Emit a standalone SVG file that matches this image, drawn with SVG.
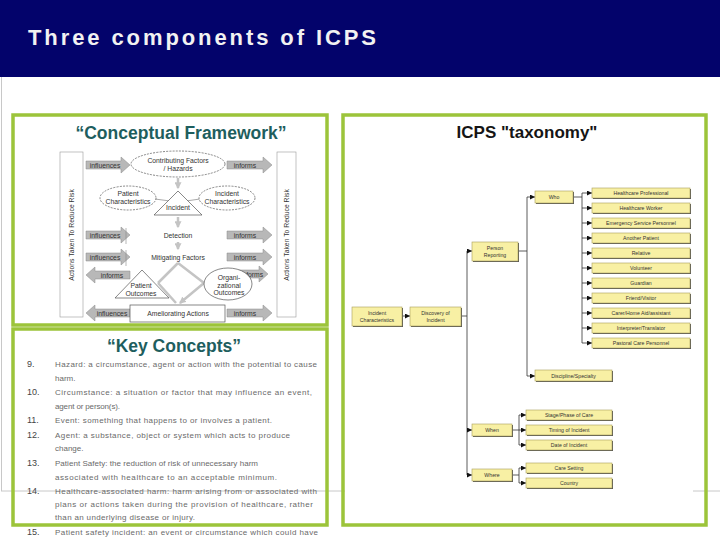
<svg xmlns="http://www.w3.org/2000/svg" width="720" height="540" viewBox="0 0 720 540">
<defs>
<style>
.ttl{font-family:"Liberation Sans",Arial,sans-serif;font-weight:bold}
.fw{font-family:"Liberation Sans",Arial,sans-serif;font-size:6.8px;fill:#333;text-anchor:middle}
.kc{font-family:"Liberation Sans",Arial,sans-serif;font-size:8px;fill:#6a6a6a}
.kn{font-family:"Liberation Sans",Arial,sans-serif;font-size:9px;fill:#444}
.tx{font-family:"Liberation Sans",Arial,sans-serif;font-size:5.2px;fill:#333;text-anchor:middle}
.panel{fill:none;stroke:#9cc43a;stroke-width:3.5}
.ba{fill:#b8b8b8;stroke:#8a8a8a;stroke-width:0.5}
.el{fill:#fff;stroke:#555;stroke-width:0.7;stroke-dasharray:2 1.2}
.gl{fill:none;stroke:#c4c4c4;stroke-width:2.5}
.yb{fill:#f8f0a4;stroke:#a89f5a;stroke-width:0.6}
.ys{fill:#555}
.tl{fill:none;stroke:#333;stroke-width:0.8}
.ta{fill:none;stroke:#333;stroke-width:0.8;marker-end:url(#ah)}
</style>
<marker id="ah" viewBox="0 0 6 6" refX="6" refY="3" markerWidth="5" markerHeight="5" orient="auto" markerUnits="userSpaceOnUse">
<path d="M0,0 L6,3 L0,6 Z" fill="#111"/>
</marker>
<marker id="gah" viewBox="0 0 6 6" refX="5" refY="3" markerWidth="7" markerHeight="7" orient="auto" markerUnits="userSpaceOnUse">
<path d="M0,0 L6,3 L0,6 Z" fill="#c4c4c4"/>
</marker>
</defs>

<rect x="0" y="0" width="720" height="540" fill="#fff"/>
<g id="header">
<rect x="0" y="0" width="720" height="77" fill="#03036b"/>
<text class="ttl" x="28" y="45" font-size="22" fill="#f2f2f2" textLength="348" lengthAdjust="spacing">Three components of ICPS</text>
</g>

<g id="frame-lines" stroke="#c8c8c8" stroke-width="1">
<line x1="1.5" y1="77" x2="1.5" y2="491"/>
<line x1="1" y1="491" x2="345" y2="491"/>
<line x1="693" y1="491" x2="720" y2="491"/>
</g>

<!-- Left panel: Conceptual Framework -->
<g id="conceptual-framework">
<rect class="panel" x="13" y="115" width="314" height="210"/>
<text class="ttl" x="181" y="139" font-size="17.5" fill="#1e5e5e" text-anchor="middle">“Conceptual Framework”</text>
<rect x="60" y="152" width="23" height="165" fill="#fff" stroke="#999" stroke-width="0.6"/>
<text class="fw" transform="translate(74,235) rotate(-90)" font-size="6.5">Actions Taken To Reduce Risk</text>
<rect x="277" y="152" width="19" height="165" fill="#fff" stroke="#999" stroke-width="0.6"/>
<text class="fw" transform="translate(289,235) rotate(-90)" font-size="6.5">Actions Taken To Reduce Risk</text>

<path class="ba" d="M86,161 H121 V157 L130,165 L121,173 V169 H86 Z"/><text class="fw" x="105" y="167.5">influences</text>
<path class="ba" d="M227,161 H263 V157 L272,165 L263,173 V169 H227 Z"/><text class="fw" x="245" y="167.5">informs</text>
<path class="ba" d="M86,231 H121 V227 L130,235 L121,243 V239 H86 Z"/><text class="fw" x="105" y="237.5">influences</text>
<path class="ba" d="M227,231 H263 V227 L272,235 L263,243 V239 H227 Z"/><text class="fw" x="245" y="237.5">informs</text>
<path class="ba" d="M86,253 H121 V249 L130,257 L121,265 V261 H86 Z"/><text class="fw" x="105" y="259.5">influences</text>
<path class="ba" d="M227,253 H263 V249 L272,257 L263,265 V261 H227 Z"/><text class="fw" x="245" y="259.5">informs</text>
<path class="ba" d="M228,270 H259 V266 L268,274 L259,282 V278 H228 Z"/><text class="fw" x="252" y="276.5">informs</text>
<path class="ba" d="M227,309 H263 V305 L272,313 L263,321 V317 H227 Z"/><text class="fw" x="245" y="315.5">informs</text>
<path class="ba" d="M130,271 H95 V267 L86,275 L95,283 V279 H130 Z"/><text class="fw" x="112" y="277.5">informs</text>
<path class="ba" d="M130,309 H95 V305 L86,313 L95,321 V317 H130 Z"/><text class="fw" x="112" y="315.5">influences</text>
<line x1="126" y1="228" x2="126" y2="244" stroke="#888" stroke-width="0.6"/>
<line x1="126" y1="250" x2="126" y2="266" stroke="#888" stroke-width="0.6"/>

<line class="gl" x1="178" y1="178" x2="178" y2="188" marker-end="url(#gah)"/>
<line class="gl" x1="178" y1="217" x2="178" y2="227" marker-end="url(#gah)"/>
<line class="gl" x1="178" y1="242" x2="178" y2="249" marker-end="url(#gah)"/>
<line x1="155" y1="199" x2="170" y2="201" stroke="#aaa" stroke-width="1.2"/>
<line x1="200" y1="199" x2="186" y2="201" stroke="#aaa" stroke-width="1.2"/>
<path class="gl" d="M178,263 L158,283 M178,263 L204,283"/>
<path class="gl" d="M158,283 L176,303 M204,283 L180,303" marker-end="url(#gah)"/>

<ellipse class="el" cx="178" cy="164" rx="47" ry="13"/>
<text class="fw" x="178" y="162.5">Contributing Factors</text>
<text class="fw" x="178" y="170.5">/ Hazards</text>
<ellipse class="el" cx="128" cy="198" rx="28" ry="12"/>
<text class="fw" x="128" y="196">Patient</text>
<text class="fw" x="128" y="204">Characteristics</text>
<ellipse class="el" cx="227" cy="198" rx="28" ry="12"/>
<text class="fw" x="227" y="196">Incident</text>
<text class="fw" x="227" y="204">Characteristics</text>
<path d="M178,191 L202,215 H154 Z" fill="#fff" stroke="#555" stroke-width="0.7"/>
<text class="fw" x="178" y="210">Incident</text>
<text class="fw" x="178" y="238">Detection</text>
<text class="fw" x="178" y="260">Mitigating Factors</text>

<path d="M142,270 L169,298 H115 Z" fill="#fff" stroke="#555" stroke-width="0.7"/>
<text class="fw" x="141" y="288">Patient</text>
<text class="fw" x="141" y="296">Outcomes</text>
<ellipse cx="228" cy="284" rx="24" ry="16" fill="#fff" stroke="#555" stroke-width="0.7"/>
<text class="fw" x="229" y="280">Organi-</text>
<text class="fw" x="229" y="287.5">zational</text>
<text class="fw" x="229" y="295">Outcomes</text>
<rect x="130" y="305" width="95" height="17" fill="#fff" stroke="#555" stroke-width="0.7"/>
<text class="fw" x="178" y="316">Ameliorating Actions</text>
</g>

<g id="key-concepts">
<rect class="panel" x="13" y="329" width="314" height="196"/>
<text class="ttl" x="174" y="352" font-size="17.5" fill="#1e5e5e" text-anchor="middle">“Key Concepts”</text>
<text class="kn" x="27" y="367">9.</text>
<text class="kc" x="55" y="367" textLength="262" lengthAdjust="spacing">Hazard: a circumstance, agent or action with the potential to cause</text>
<text class="kc" x="55" y="381">harm.</text>
<text class="kn" x="27" y="395">10.</text>
<text class="kc" x="55" y="395" textLength="257" lengthAdjust="spacing">Circumstance: a situation or factor that may influence an event,</text>
<text class="kc" x="55" y="409" textLength="65" lengthAdjust="spacing">agent or person(s).</text>
<text class="kn" x="27" y="423">11.</text>
<text class="kc" x="55" y="423" textLength="217" lengthAdjust="spacing">Event: something that happens to or involves a patient.</text>
<text class="kn" x="27" y="438">12.</text>
<text class="kc" x="55" y="438" textLength="235" lengthAdjust="spacing">Agent: a substance, object or system which acts to produce</text>
<text class="kc" x="55" y="451">change.</text>
<text class="kn" x="27" y="466">13.</text>
<text class="kc" x="55" y="466" textLength="203" lengthAdjust="spacing">Patient Safety: the reduction of risk of unnecessary harm</text>
<text class="kc" x="55" y="480" textLength="222" lengthAdjust="spacing">associated with healthcare to an acceptable minimum.</text>
<text class="kn" x="27" y="494">14.</text>
<text class="kc" x="55" y="494" textLength="262" lengthAdjust="spacing">Healthcare-associated harm: harm arising from or associated with</text>
<text class="kc" x="55" y="507" textLength="258" lengthAdjust="spacing">plans or actions taken during the provision of healthcare, rather</text>
<text class="kc" x="55" y="520" textLength="140" lengthAdjust="spacing">than an underlying disease or injury.</text>
<text class="kn" x="27" y="535">15.</text>
<text class="kc" x="55" y="535" textLength="263" lengthAdjust="spacing">Patient safety incident: an event or circumstance which could have</text>
</g>

<g id="taxonomy-panel">
<rect class="panel" x="343" y="115" width="363" height="410"/>
<text class="ttl" x="527" y="138" font-size="17" fill="#151515" text-anchor="middle">ICPS "taxonomy"</text>
</g>

<g id="connectors">
<line class="ta" x1="402" y1="316" x2="410" y2="316"/>
<path class="tl" d="M461,316 H467 M467,251 V475"/>
<line class="ta" x1="467" y1="251" x2="472" y2="251"/>
<line class="ta" x1="467" y1="430" x2="472" y2="430"/>
<line class="ta" x1="467" y1="475" x2="472" y2="475"/>
<path class="tl" d="M518,251 H527 M527,197 V376"/>
<line class="ta" x1="527" y1="197" x2="535" y2="197"/>
<line class="ta" x1="527" y1="376" x2="535" y2="376"/>
<path class="tl" d="M573,197 H582 M582,193 V343"/>
<line class="ta" x1="582" y1="193" x2="592" y2="193"/>
<line class="ta" x1="582" y1="208" x2="592" y2="208"/>
<line class="ta" x1="582" y1="223" x2="592" y2="223"/>
<line class="ta" x1="582" y1="238" x2="592" y2="238"/>
<line class="ta" x1="582" y1="253" x2="592" y2="253"/>
<line class="ta" x1="582" y1="268" x2="592" y2="268"/>
<line class="ta" x1="582" y1="283" x2="592" y2="283"/>
<line class="ta" x1="582" y1="298" x2="592" y2="298"/>
<line class="ta" x1="582" y1="313" x2="592" y2="313"/>
<line class="ta" x1="582" y1="328" x2="592" y2="328"/>
<line class="ta" x1="582" y1="343" x2="592" y2="343"/>
<path class="tl" d="M512,430 H519 M519,415 V445"/>
<line class="ta" x1="519" y1="415" x2="526" y2="415"/>
<line class="ta" x1="519" y1="430" x2="526" y2="430"/>
<line class="ta" x1="519" y1="445" x2="526" y2="445"/>
<path class="tl" d="M512,475 H519 M519,468 V483"/>
<line class="ta" x1="519" y1="468" x2="526" y2="468"/>
<line class="ta" x1="519" y1="483" x2="526" y2="483"/>
</g>

<g id="n-incident-characteristics"><rect class="ys" x="353" y="308" width="50" height="19"/><rect class="yb" x="352" y="307" width="50" height="19"/><text class="tx" x="377" y="315">Incident</text><text class="tx" x="377" y="322">Characteristics</text></g>
<g id="n-discovery"><rect class="ys" x="411" y="308" width="51" height="19"/><rect class="yb" x="410" y="307" width="51" height="19"/><text class="tx" x="435.5" y="315">Discovery of</text><text class="tx" x="435.5" y="322">Incident</text></g>
<g id="n-person-reporting"><rect class="ys" x="473" y="243" width="46" height="19"/><rect class="yb" x="472" y="242" width="46" height="19"/><text class="tx" x="495" y="250">Person</text><text class="tx" x="495" y="257">Reporting</text></g>
<g id="n-when"><rect class="ys" x="473" y="425" width="40" height="12"/><rect class="yb" x="472" y="424" width="40" height="12"/><text class="tx" x="492" y="432">When</text></g>
<g id="n-where"><rect class="ys" x="473" y="470" width="40" height="12"/><rect class="yb" x="472" y="469" width="40" height="12"/><text class="tx" x="492" y="477">Where</text></g>
<g id="n-who"><rect class="ys" x="536" y="192" width="38" height="12"/><rect class="yb" x="535" y="191" width="38" height="12"/><text class="tx" x="554" y="199">Who</text></g>
<g id="n-discipline"><rect class="ys" x="536" y="371" width="77" height="11"/><rect class="yb" x="535" y="370" width="77" height="11"/><text class="tx" x="573.5" y="377.5">Discipline/Specialty</text></g>

<g id="n-healthcare-professional"><rect class="ys" x="593" y="189" width="98" height="10"/><rect class="yb" x="592" y="188" width="98" height="10"/><text class="tx" x="641" y="195">Healthcare Professional</text></g>
<g id="n-healthcare-worker"><rect class="ys" x="593" y="204" width="98" height="10"/><rect class="yb" x="592" y="203" width="98" height="10"/><text class="tx" x="641" y="210">Healthcare Worker</text></g>
<g id="n-emergency"><rect class="ys" x="593" y="219" width="98" height="10"/><rect class="yb" x="592" y="218" width="98" height="10"/><text class="tx" x="641" y="225">Emergency Service Personnel</text></g>
<g id="n-another-patient"><rect class="ys" x="593" y="234" width="98" height="10"/><rect class="yb" x="592" y="233" width="98" height="10"/><text class="tx" x="641" y="240">Another Patient</text></g>
<g id="n-relative"><rect class="ys" x="593" y="249" width="98" height="10"/><rect class="yb" x="592" y="248" width="98" height="10"/><text class="tx" x="641" y="255">Relative</text></g>
<g id="n-volunteer"><rect class="ys" x="593" y="264" width="98" height="10"/><rect class="yb" x="592" y="263" width="98" height="10"/><text class="tx" x="641" y="270">Volunteer</text></g>
<g id="n-guardian"><rect class="ys" x="593" y="279" width="98" height="10"/><rect class="yb" x="592" y="278" width="98" height="10"/><text class="tx" x="641" y="285">Guardian</text></g>
<g id="n-friend"><rect class="ys" x="593" y="294" width="98" height="10"/><rect class="yb" x="592" y="293" width="98" height="10"/><text class="tx" x="641" y="300">Friend/Visitor</text></g>
<g id="n-carer"><rect class="ys" x="593" y="309" width="98" height="10"/><rect class="yb" x="592" y="308" width="98" height="10"/><text class="tx" x="641" y="315">Carer/Home Aid/assistant</text></g>
<g id="n-interpreter"><rect class="ys" x="593" y="324" width="98" height="10"/><rect class="yb" x="592" y="323" width="98" height="10"/><text class="tx" x="641" y="330">Interpreter/Translator</text></g>
<g id="n-pastoral"><rect class="ys" x="593" y="339" width="98" height="10"/><rect class="yb" x="592" y="338" width="98" height="10"/><text class="tx" x="641" y="345">Pastoral Care Personnel</text></g>

<g id="n-stage"><rect class="ys" x="527" y="411" width="86" height="10"/><rect class="yb" x="526" y="410" width="86" height="10"/><text class="tx" x="569" y="417">Stage/Phase of Care</text></g>
<g id="n-timing"><rect class="ys" x="527" y="426" width="86" height="10"/><rect class="yb" x="526" y="425" width="86" height="10"/><text class="tx" x="569" y="432">Timing of Incident</text></g>
<g id="n-date"><rect class="ys" x="527" y="441" width="86" height="10"/><rect class="yb" x="526" y="440" width="86" height="10"/><text class="tx" x="569" y="447">Date of Incident</text></g>
<g id="n-care-setting"><rect class="ys" x="527" y="464" width="86" height="10"/><rect class="yb" x="526" y="463" width="86" height="10"/><text class="tx" x="569" y="470">Care Setting</text></g>
<g id="n-country"><rect class="ys" x="527" y="479" width="86" height="10"/><rect class="yb" x="526" y="478" width="86" height="10"/><text class="tx" x="569" y="485">Country</text></g>
</svg>
